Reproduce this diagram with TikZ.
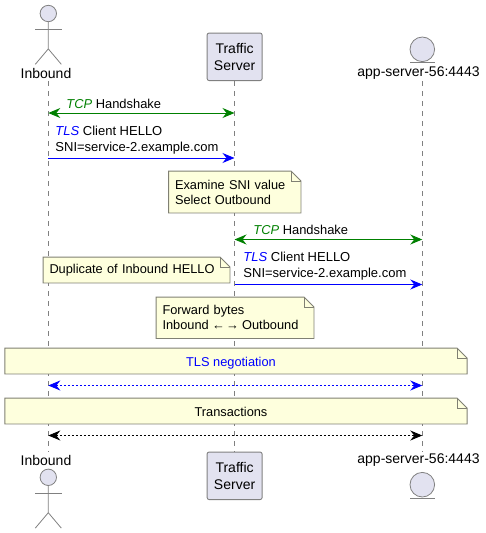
\documentclass[tikz,border=0pt]{standalone}
\usepackage{fontspec}
\setmainfont{Liberation Sans}
\usepackage{tikz}
\usetikzlibrary{positioning, arrows.meta, calc, backgrounds}
\usepackage{xcolor}
\definecolor{PartFill}{RGB}{226,226,240}
\definecolor{PartLine}{RGB}{128,128,128}
\definecolor{NoteFill}{RGB}{254,255,221}
\definecolor{NoteLine}{RGB}{128,128,115}
\definecolor{MsgVerde}{RGB}{0,128,0}
\definecolor{MsgAzul}{RGB}{0,0,255}
\newcommand{\partfont}{\fontsize{14}{17}\selectfont}
\newcommand{\notefont}{\fontsize{12.8}{15}\selectfont}

\begin{document}
\begin{tikzpicture}[x=1pt, y=-1pt, font=\partfont, line width=0.9pt,
  caja/.style={rectangle, rounded corners=2pt, draw=PartLine, fill=PartFill, minimum width=55pt, minimum height=47.5pt, inner sep=0pt, align=center},
  nombre/.style={inner sep=0pt, align=center},
  figura/.style={draw=PartLine, line width=0.8pt},
  vida/.style={draw=PartLine, line width=0.7pt, dash pattern=on 5pt off 5pt},
  msg/.style={line width=0.9pt, -{Stealth[length=12pt, width=10pt, inset=4pt]}},
  msgdoble/.style={line width=0.9pt, {Stealth[length=12pt, width=10pt, inset=4pt]}-{Stealth[length=12pt, width=10pt, inset=4pt]}},
  punteada/.style={dash pattern=on 2pt off 2pt},
  texto/.style={anchor=west, inner sep=0pt, align=left},
  nota/.style={inner sep=0pt, font=\notefont, align=left},
  notaancha/.style={inner sep=0pt, font=\notefont, minimum width=461.4pt, minimum height=25pt, text height=12.7pt, text depth=2.7pt},
  notaplana/.style={draw=NoteLine, fill=NoteFill, line width=0.9pt}]
  \useasboundingbox (0,0) rectangle (486,533);

  % participantes
  \node[nombre] (inboundTop) at (46,73) {Inbound};
  \node[nombre] (inboundBot) at (46,460) {Inbound};
  \node[caja] (trafficTop) at (234.6,56.8) {Traffic\\Server};
  \node[caja] (trafficBot) at (234.6,475.8) {Traffic\\Server};
  \node[nombre] (appTop) at (418.5,73) {app-server-56:4443};
  \node[nombre] (appBot) at (418.5,460) {app-server-56:4443};

  % actores y entidades
  \foreach \base/\nm in {13.5/actorTop, 477.3/actorBot} {
    \node[circle, figura, fill=PartFill, minimum size=16.4pt, inner sep=0pt] (\nm) at (48.3,\base) {};
    \draw[figura] (\nm.south) -- ++(0,26.8) coordinate (\nm-hip) -- ++(-13,15.4);
    \draw[figura] (\nm-hip) -- ++(13,15.4);
    \draw[figura] ($(\nm)+(-13.2,15.8)$) -- ($(\nm)+(13.4,15.8)$);
  }
  \foreach \base/\nm in {49.3/entityTop, 484.7/entityBot} {
    \node[circle, figura, fill=PartFill, minimum size=24.6pt, inner sep=0pt] (\nm) at (422.3,\base) {};
    \draw[figura] ($(\nm.south)+(-12.3,0.5)$) -- ($(\nm.south)+(12.3,0.5)$);
  }

  % puntos de los mensajes
  \foreach \yy/\nm in {113/tcpA, 158/tlsA, 239.5/tcpB, 284.5/tlsB, 385.5/nego, 435.5/trans} {
    \coordinate (in-\nm) at (48.3,\yy);
    \coordinate (ts-\nm) at (234.5,\yy);
    \coordinate (app-\nm) at (422.3,\yy);
  }

  % notas
  \node[nota, minimum width=131.5pt, minimum height=41pt, text width=119.5pt] (examine) at (234.75,192) {Examine SNI value\\Select Outbound};
  \node[nota, minimum width=186pt, minimum height=25pt, text width=174pt] (duplicate) at (136.5,270) {Duplicate of Inbound HELLO};
  \node[nota, minimum width=157pt, minimum height=40.5pt, text width=145pt] (forward) at (235,317.75) {Forward bytes\\Inbound \kern-1pt\textbf{←}\kern-1.5pt\ \kern-1.5pt\textbf{→}\kern-1pt\ Outbound};
  \node[notaancha] (tlsnote) at (236,361) {\textcolor{MsgAzul}{TLS negotiation}\hspace*{10pt}};
  \node[notaancha] (transnote) at (236,411) {Transactions\hspace*{10pt}};

  \begin{scope}[on background layer]
    \draw[vida] (48.3,81) -- (48.3,452);
    \draw[vida] (trafficTop.south) -- (trafficBot.north);
    \draw[vida] (422.3,81) -- (422.3,452);
    \foreach \n in {examine, duplicate, forward, tlsnote, transnote}
      \draw[notaplana] (\n.north west) -- ($(\n.north east)+(-10,0)$) -- ($(\n.north east)+(0,10)$) -- (\n.south east) -- (\n.south west) -- cycle;
    \foreach \n in {examine, duplicate, forward, tlsnote, transnote}
      \draw[NoteLine, line width=0.9pt] ($(\n.north east)+(-10,0)$) |- ($(\n.north east)+(0,10)$);
  \end{scope}

  % mensajes
  \draw[msgdoble, MsgVerde] (in-tcpA) -- (ts-tcpA);
  \draw[msg, MsgAzul] (in-tlsA) -- (ts-tlsA);
  \draw[msgdoble, MsgVerde] (ts-tcpB) -- (app-tcpB);
  \draw[msg, MsgAzul] (ts-tlsB) -- (app-tlsB);
  \draw[msgdoble, punteada, MsgAzul] (in-nego) -- (app-nego);
  \draw[msgdoble, punteada, black] (in-trans) -- (app-trans);

  % textos
  \node[texto, font=\fontsize{12.9}{16}\selectfont] (tcpAtxt) at (66,103.5) {\textcolor{MsgVerde}{\textit{TCP}} Handshake};
  \node[texto, font=\fontsize{13}{16}\selectfont] (tlsAtxt) at (55,140.5) {\textcolor{MsgAzul}{\textit{TLS}} Client HELLO\\SNI=service-2.example.com};
  \node[texto, font=\fontsize{12.9}{16}\selectfont] (tcpBtxt) at (253,229.5) {\textcolor{MsgVerde}{\textit{TCP}} Handshake};
  \node[texto, font=\fontsize{13}{16}\selectfont] (tlsBtxt) at (243,266.5) {\textcolor{MsgAzul}{\textit{TLS}} Client HELLO\\SNI=service-2.example.com};
\end{tikzpicture}
\end{document}
